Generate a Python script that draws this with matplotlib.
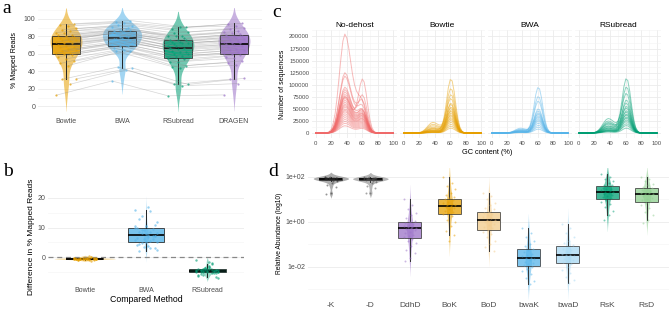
import numpy as np
import pandas as pd
import matplotlib
matplotlib.use("Agg")
import matplotlib.pyplot as plt
import seaborn as sns

plt.rcParams['font.family'] = ['Liberation Sans', 'DejaVu Sans']

# ---- panel a / b : % mapped reads per sample ----
methods_a = ['Bowtie', 'BWA', 'RSubread', 'DRAGEN']
colors_a = ['#E69F00', '#56B4E9', '#009E73', '#9B72C8']
dragen = [13, 26, 31, 32, 47, 50, 52, 55, 57, 59, 60, 61, 62, 64, 65, 66, 68, 69, 70, 71,
          72, 73, 74, 75, 76, 77, 78, 79, 80, 81, 82, 83, 84, 85, 86, 88, 90, 92, 94, 95]
# difference of each method vs DRAGEN (panel b)
diff_bowtie = [-0.4, -0.8, -0.2, -0.6, -0.5, -1.0, -0.3, -0.7, -0.5, 0.2, -0.6, -0.4, -0.9, -0.5,
               -0.3, -0.7, -0.6, -1.1, -0.4, -0.5, 0.1, -0.6, -0.8, -0.2, -0.5, -0.7, -0.4, -0.9,
               -0.3, -0.6, -0.5, -1.2, -0.4, -0.6, 0.3, -0.5, -0.8, -0.3, -0.7, -0.5]
diff_bwa = [16.0, 15.5, 14.0, 12.0, 17.0, 13.0, 11.0, 10.5, 10.0, 9.5, 9.0, 10.5, 8.5, 9.0,
            8.0, 7.5, 8.5, 7.0, 7.8, 6.5, 7.2, 6.0, 9.8, 5.5, 8.0, 5.0, 6.8, 4.5, 7.0, 5.2,
            4.0, 6.2, 3.5, 5.8, 3.0, 4.8, 2.5, 3.8, 2.0, 3.2]
diff_rsubread = [-1.0, -2.5, -6.0, -7.0, -3.0, -4.5, -5.5, -4.0, -6.5, -4.8, -3.8, -5.2, -4.2,
                 -4.6, -5.0, -3.5, -4.4, -6.8, -4.9, -4.1, -5.3, -4.3, -4.7, -2.0, -5.1, -4.5,
                 -3.9, -5.8, -4.2, -4.6, -6.2, -4.8, -3.6, -4.4, -5.5, -4.0, -4.9, -1.5, -5.0, -4.3]
methods_b = ['Bowtie', 'BWA', 'RSubread']

# ---- panel c : GC content profiles ----
gc = np.linspace(0, 100, 41)
profile_low = [0, 0, 0, 0, 0, 0, 0.005, 0.015, 0.04, 0.10, 0.20, 0.36, 0.56, 0.76, 0.93, 1.00,
               0.96, 0.86, 0.72, 0.58, 0.46, 0.36, 0.27, 0.19, 0.12, 0.065, 0.03, 0.012,
               0.004, 0, 0, 0, 0, 0, 0, 0, 0, 0, 0, 0, 0]
profile_high = [0, 0, 0, 0, 0, 0, 0, 0, 0, 0, 0, 0, 0, 0, 0, 0, 0.001, 0.004, 0.015, 0.05,
                0.135, 0.30, 0.55, 0.82, 0.98, 0.96, 0.77, 0.50, 0.26, 0.11, 0.04, 0.01,
                0.003, 0, 0, 0, 0, 0, 0, 0, 0]
facets = ['No-dehost', 'Bowtie', 'BWA', 'RSubread']
facet_colors = ['#F06A6A', '#E69F00', '#56B4E9', '#009E73']
peak_low = [
    [205000, 125000, 118000, 75000, 95000, 90000, 85000, 80000, 76000, 72000, 68000, 64000,
     60000, 57000, 54000, 50000, 47000, 44000, 40000, 36000, 32000, 28000, 24000, 20000, 15000],
    [8000, 10000, 6000, 22000, 5000, 18000, 4000, 15000, 3000, 12000, 6000, 2500, 9000, 2000,
     5000, 1500, 3000, 1000, 2000, 1000],
    [6000, 5000, 8000, 4000, 10000, 3000, 7000, 2500, 5000, 2000, 4000, 1500, 3000, 1000, 2000, 1000],
    [20000, 15000, 30000, 12000, 25000, 10000, 22000, 8000, 18000, 6000, 14000, 5000, 10000,
     4000, 7000, 3000, 5000, 2000],
]
peak_high = [
    [45000, 55000, 45000, 105000, 40000, 70000, 38000, 40000, 36000, 34000, 33000, 32000, 30000,
     29000, 27000, 25000, 24000, 22000, 20000, 18000, 16000, 14000, 12000, 10000, 8000],
    [112000, 92000, 80000, 70000, 62000, 58000, 54000, 50000, 47000, 44000, 41000, 38000, 35000,
     32000, 29000, 26000, 22000, 18000, 14000, 10000],
    [95000, 76000, 66000, 50000, 45000, 42000, 39000, 36000, 33000, 30000, 27000, 24000, 20000,
     16000, 12000, 8000],
    [112000, 95000, 80000, 68000, 60000, 55000, 50000, 46000, 42000, 39000, 36000, 33000, 30000,
     27000, 23000, 19000, 15000, 10000],
]

# ---- panel d : relative abundance (log10) ----
groups_d = ['-K', '-D', 'DdhD', 'BoK', 'BoD', 'bwaK', 'bwaD', 'RsK', 'RsD']
colors_d = ['#2A2A2A', '#4A4A4A', '#9B72C8', '#E69F00', '#F2CB8A', '#56B4E9', '#A7D8F2', '#009E73', '#8ECF8E']
abund = [
    [1.98, 1.95, 1.93, 1.96, 1.90, 1.94, 1.97, 1.92, 1.89, 1.95, 1.99, 1.91, 1.93, 1.96, 1.88, 1.94,
     1.92, 1.97, 1.86, 1.95, 1.93, 1.90, 2.02, 1.84, 1.94, 1.80, 1.75, 1.62, 1.55, 1.28, 1.25],
    [1.97, 1.94, 1.92, 1.95, 1.89, 1.93, 1.96, 1.91, 1.88, 1.94, 1.98, 1.90, 1.92, 1.95, 1.87, 1.93,
     1.91, 1.96, 1.85, 1.94, 1.92, 1.89, 2.01, 1.83, 1.93, 1.78, 1.72, 1.60, 1.50, 1.30, 1.27],
    [1.0, 0.75, 0.55, 0.4, 0.3, 0.15, 0.05, 0.0, -0.05, -0.1, -0.15, -0.2, -0.22, -0.25, -0.27, -0.3,
     -0.33, -0.38, -0.45, -0.5, -0.58, -0.65, -0.7, -0.75, -0.85, -0.95, -1.1, -1.25, -1.4, -1.6, -1.77],
    [2.0, 1.75, 1.6, 1.45, 1.3, 1.2, 1.1, 1.05, 1.0, 0.95, 0.9, 0.85, 0.8, 0.76, 0.73, 0.7, 0.65,
     0.6, 0.55, 0.5, 0.45, 0.41, 0.35, 0.25, 0.1, 0.0, -0.2, -0.4, -0.6, -0.85],
    [1.3, 1.15, 1.0, 0.85, 0.75, 0.62, 0.55, 0.45, 0.4, 0.35, 0.28, 0.2, 0.15, 0.1, 0.08, 0.04,
     -0.02, -0.08, -0.15, -0.22, -0.3, -0.35, -0.45, -0.55, -0.7, -0.85, -1.0, -1.15, -1.3],
    [-0.3, -0.5, -0.7, -0.85, -1.0, -1.1, -1.2, -1.27, -1.35, -1.42, -1.5, -1.55, -1.6, -1.64,
     -1.68, -1.72, -1.78, -1.85, -1.9, -1.95, -2.0, -2.1, -2.2, -2.35, -2.5, -2.65, -2.8],
    [-0.1, -0.3, -0.5, -0.7, -0.85, -0.95, -1.05, -1.14, -1.2, -1.28, -1.35, -1.42, -1.47, -1.5,
     -1.55, -1.6, -1.66, -1.72, -1.78, -1.82, -1.9, -2.0, -2.15, -2.3, -2.45, -2.6, -2.75],
    [2.15, 2.0, 1.9, 1.8, 1.72, 1.66, 1.62, 1.58, 1.52, 1.48, 1.44, 1.4, 1.37, 1.35, 1.32, 1.28,
     1.24, 1.2, 1.15, 1.1, 1.05, 0.98, 0.9, 0.8, 0.65, 0.5, 0.3, 0.08],
    [2.0, 1.9, 1.8, 1.7, 1.62, 1.56, 1.52, 1.48, 1.43, 1.38, 1.34, 1.3, 1.27, 1.25, 1.22, 1.18,
     1.13, 1.08, 1.03, 0.98, 0.92, 0.85, 0.75, 0.6, 0.45, 0.3, 0.1, -0.05],
]

W, H = 669, 312
fig = plt.figure(figsize=(W / 100, H / 100), dpi=100)


def px_axes(l, t, r, b):
    return fig.add_axes([l / W, 1 - b / H, (r - l) / W, (b - t) / H])


def minimal(ax, size=5):
    for s in ax.spines.values():
        s.set_visible(False)
    ax.tick_params(which='both', length=0, labelsize=size, labelcolor='#4D4D4D', pad=2)
    ax.grid(True, which='major', color='#EBEBEB', lw=0.6)
    ax.grid(True, which='minor', color='#F3F3F3', lw=0.4)
    ax.set_axisbelow(True)


def jitter(n, spread):
    k = np.arange(n)
    return ((k * 7) % 11 / 10 - 0.5) * spread


def violins(ax, groups, values, colors, width, alpha):
    # area-scaled violins (same area for every group), like ggplot's default
    df = pd.DataFrame({'g': np.repeat(groups, [len(v) for v in values]),
                       'v': np.concatenate([np.asarray(v, float) for v in values])})
    sns.violinplot(data=df, x='g', y='v', hue='g', order=groups, hue_order=groups,
                   palette=colors, inner=None, linewidth=0, width=width, saturation=1,
                   density_norm='area', common_norm=True,
                   alpha=alpha, legend=False, ax=ax)


def boxes(ax, values, colors, width, alpha, edge='#222222'):
    bp = ax.boxplot(values, positions=range(len(values)), widths=width, patch_artist=True,
                    showfliers=False, showcaps=False,
                    medianprops=dict(color='black', lw=1.2),
                    boxprops=dict(edgecolor=edge, lw=0.7),
                    whiskerprops=dict(color=edge, lw=0.7))
    for patch, c in zip(bp['boxes'], colors):
        patch.set_facecolor(c)
        patch.set_alpha(alpha)
        patch.set_edgecolor(edge)


# ================= panel a =================
dr = np.array(dragen, float)
mapped = [dr + np.array(diff_bowtie), dr + np.array(diff_bwa), dr + np.array(diff_rsubread), dr]
n = len(dragen)
ax = px_axes(38, 5, 262, 115)
minimal(ax)
violins(ax, methods_a, mapped, colors_a, 0.7, 0.55)
boxes(ax, mapped, colors_a, 0.5, 0.8)
jit = jitter(n, 0.36)
for i in range(n):
    ax.plot(np.arange(4) + jit[i], [m[i] for m in mapped], color='#888888', alpha=0.35, lw=0.5, zorder=3)
for k in range(4):
    ax.scatter(k + jit, mapped[k], s=2.5, color=colors_a[k], alpha=0.7, lw=0, zorder=4)
ax.set_xlim(-0.5, 3.5)
ax.set_ylim(-10, 116)
ax.set_yticks([0, 20, 40, 60, 80, 100])
ax.set_yticks([10, 30, 50, 70, 90, 110], minor=True)
ax.set_xticks(range(4))
ax.set_xticklabels(methods_a)
ax.set_xlabel('')
ax.set_ylabel('% Mapped Reads', fontsize=5, labelpad=4)
fig.text(2 / W, 1 - 13 / H, 'a', family='Liberation Serif', fontsize=14)

# ================= panel b =================
diffs = [diff_bowtie, diff_bwa, diff_rsubread]
ax = px_axes(48, 190, 244, 284)
minimal(ax, 5)
violins(ax, methods_b, diffs, colors_a[:3], 1.0, 0.4)
ax.axhline(0, color='#888888', lw=0.9, ls=(0, (4, 3)), zorder=2)
boxes(ax, diffs, colors_a[:3], 0.6, 0.8)
for k in range(3):
    ax.scatter(k + jitter(len(diffs[k]), 0.36), diffs[k], s=3, color=colors_a[k], alpha=0.6, lw=0, zorder=4)
ax.set_xlim(-0.6, 2.6)
ax.set_ylim(-9.1, 22.7)
ax.set_yticks([0, 10, 20])
ax.set_yticks([-5, 5, 15], minor=True)
ax.set_xticks(range(3))
ax.set_xticklabels(methods_b)
ax.set_xlabel('Compared Method', fontsize=6.3, labelpad=1)
ax.set_ylabel('Difference in % Mapped Reads', fontsize=6, labelpad=2)
fig.text(3 / W, 1 - 176 / H, 'b', family='Liberation Serif', fontsize=14)

# ================= panel c =================
lefts = [312, 400, 488, 575]
rights = [397, 485, 572, 661]
p_low = np.array(profile_low)
p_high = np.array(profile_high)
for f in range(4):
    ax = px_axes(lefts[f], 30, rights[f], 138)
    minimal(ax, 4.3)
    for a_h, b_h in zip(peak_low[f], peak_high[f]):
        ax.plot(gc, a_h * p_low + b_h * p_high, color=facet_colors[f], alpha=0.45, lw=0.7)
    ax.set_xlim(-5, 105)
    ax.set_ylim(-10360, 213470)
    ax.set_xticks([0, 20, 40, 60, 80, 100])
    ax.set_xticks([10, 30, 50, 70, 90], minor=True)
    ticks = list(range(0, 200001, 25000))
    ax.set_yticks(ticks)
    ax.set_yticks([t + 12500 for t in ticks], minor=True)
    if f == 0:
        ax.set_yticklabels([str(t) for t in ticks])
        ax.set_ylabel('Number of sequences', fontsize=5, labelpad=2)
    else:
        ax.set_yticklabels([])
    ax.set_title(facets[f], fontsize=6, pad=2)
fig.text(487 / W, 1 - 153 / H, 'GC content (%)', fontsize=5.3, ha='center', va='center')
fig.text(272 / W, 1 - 17 / H, 'c', family='Liberation Serif', fontsize=14)

# ================= panel d =================
ax = px_axes(308, 168, 669, 299)
minimal(ax, 5)
violins(ax, groups_d, abund, ['#6A6A6A', '#7A7A7A'] + colors_d[2:], 0.9, 0.55)
boxes(ax, abund, colors_d, 0.58, 0.75, edge='#333333')
for k in range(9):
    ax.scatter(k + jitter(len(abund[k]), 0.3), abund[k], s=2, color=colors_d[k], alpha=0.5, lw=0, zorder=4)
ax.set_xlim(-0.58, 8.56)
ax.set_ylim(-3.45, 2.4)
ax.set_yticks([-2, 0, 2])
ax.set_yticklabels(['1e-02', '1e+00', '1e+02'])
ax.set_yticks([-3, -1, 1], minor=True)
ax.set_xticks(range(9))
ax.set_xticklabels(groups_d, fontsize=6)
ax.set_xlabel('')
ax.set_ylabel('Relative Abundance (log10)', fontsize=4.8, labelpad=2)
fig.text(268 / W, 1 - 176 / H, 'd', family='Liberation Serif', fontsize=14)

fig.savefig('out.png', dpi=100)
